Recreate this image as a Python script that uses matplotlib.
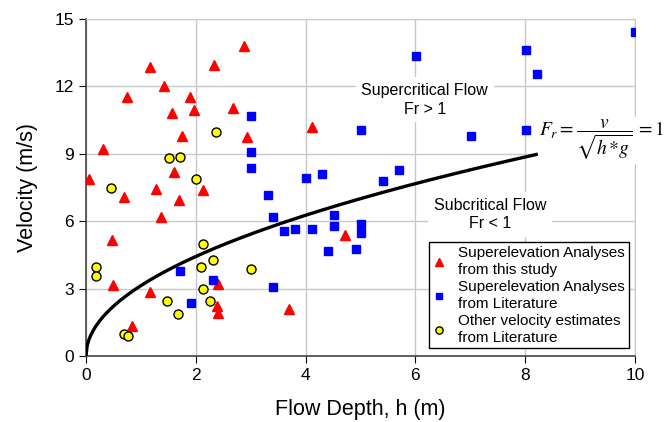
import numpy as np
import matplotlib.pyplot as plt

plt.rcParams['font.family'] = ['Liberation Sans', 'DejaVu Sans']
plt.rcParams['mathtext.fontset'] = 'stix'

# superelevation analyses, this study (depth m, velocity m/s)
study_h = [0.06, 0.31, 0.75, 1.17, 1.42, 2.87, 2.34, 1.89, 1.56, 1.96, 2.68, 1.75,
           2.93, 1.61, 0.69, 1.28, 1.69, 2.13, 1.36, 0.48, 0.49, 1.17, 2.40, 2.38,
           2.41, 0.84, 4.11, 4.72, 3.69]
study_v = [7.9, 9.23, 11.51, 12.88, 12.0, 13.81, 12.94, 11.54, 10.8, 10.93, 11.04, 9.8,
           9.73, 8.2, 7.09, 7.43, 6.93, 7.37, 6.19, 5.15, 3.17, 2.86, 3.22, 2.21,
           1.93, 1.34, 10.2, 5.4, 2.09]

# superelevation analyses from literature
lit_h = [3.01, 3.01, 3.01, 3.31, 3.41, 1.71, 2.31, 1.91, 3.41, 6.01, 5.01, 5.71, 4.30,
         4.01, 5.41, 4.51, 4.51, 5.01, 5.01, 3.61, 3.81, 4.11, 4.41, 4.91, 10.0,
         8.01, 8.21, 7.01, 8.01]
lit_v = [10.67, 9.07, 8.38, 7.17, 6.19, 3.78, 3.38, 2.36, 3.07, 13.37, 10.07, 8.28, 8.08,
         7.91, 7.8, 6.27, 5.77, 5.87, 5.47, 5.56, 5.67, 5.67, 4.67, 4.76, 14.42,
         13.62, 12.56, 9.78, 10.07]

# other velocity estimates from literature
other_h = [2.36, 1.51, 1.71, 2.01, 0.46, 2.14, 2.31, 2.10, 3.01, 0.18, 0.18, 2.13,
           1.48, 2.25, 1.68, 0.69, 0.76]
other_v = [9.97, 8.81, 8.87, 7.88, 7.48, 4.97, 4.27, 3.96, 3.87, 3.95, 3.57, 2.97,
           2.46, 2.46, 1.87, 0.98, 0.88]

g = 9.81
h_line = np.linspace(0, 8.2, 400)
v_line = np.sqrt(h_line * g)   # Fr = 1

fig = plt.figure(figsize=(6.7, 4.22), dpi=100)
ax = fig.add_axes([86/670, 1 - 356/422, 549/670, 337/422])

ax.plot(h_line, v_line, color='black', lw=2.4, zorder=3)
ax.plot(study_h, study_v, '^', color='red', ms=6.5, mec='red', ls='none',
        label='Superelevation Analyses\nfrom this study', zorder=4)
ax.plot(lit_h, lit_v, 's', color='blue', ms=5.2, mec='blue', ls='none',
        label='Superelevation Analyses\nfrom Literature', zorder=4)
ax.plot(other_h, other_v, 'o', color='yellow', mec='black', mew=1.0, ms=6.5, ls='none',
        label='Other velocity estimates\nfrom Literature', zorder=4)

ax.set_xlim(0, 10)
ax.set_ylim(0, 15)
ax.set_xticks(range(0, 11, 2))
ax.set_yticks(range(0, 16, 3))
ax.grid(True, color='#c8c8c8', lw=1)
ax.set_axisbelow(True)
for s in ['top', 'right']:
    ax.spines[s].set_color('#c8c8c8')
for s in ['left', 'bottom']:
    ax.spines[s].set_color('#444444')
    ax.spines[s].set_linewidth(1.2)
ax.tick_params(direction='out', length=5, labelsize=12.5, color='black')
ax.set_xlabel('Flow Depth, h (m)', fontsize=15.5, labelpad=12)
ax.set_ylabel('Velocity (m/s)', fontsize=15.5, labelpad=12)

ax.text(6.17, 11.4, 'Supercritical Flow\nFr > 1', ha='center', va='center', fontsize=11.5,
        linespacing=1.3, bbox=dict(fc='white', ec='none', pad=4), zorder=2)
ax.text(7.36, 6.3, 'Subcritical Flow\nFr < 1', ha='center', va='center', fontsize=11.5,
        linespacing=1.3, bbox=dict(fc='white', ec='none', pad=4), zorder=2)
ax.text(8.25, 9.6, r'$F_r = \dfrac{v}{\sqrt{h\,{*}g}}\,{=}1$', ha='left', va='center',
        fontsize=14, bbox=dict(fc='white', ec='none', pad=1), zorder=5, clip_on=False)

leg = ax.legend(loc='lower right', bbox_to_anchor=(1.003, 0.0), fontsize=11,
                frameon=True, fancybox=False, edgecolor='black', framealpha=1,
                markerscale=0.8, handlelength=0.8, handletextpad=0.9, borderpad=0.25,
                labelspacing=0.25)
leg.get_frame().set_linewidth(1.0)
leg.set_zorder(6)

fig.savefig('out.png', dpi=100)
